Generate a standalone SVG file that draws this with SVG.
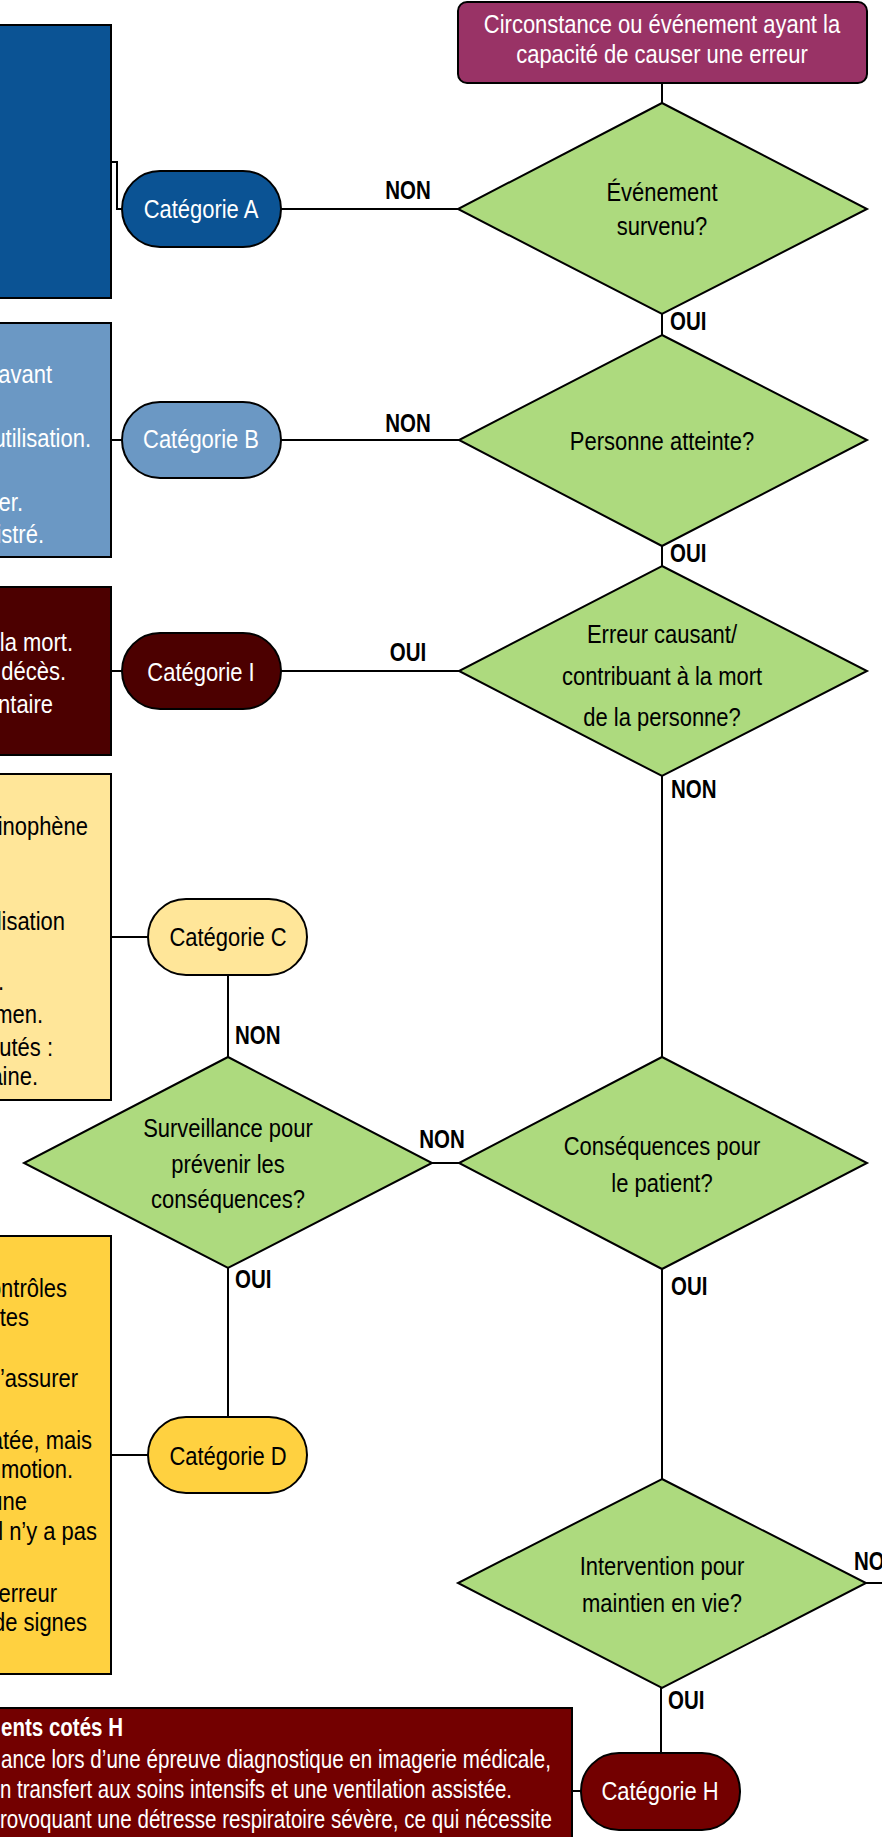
<svg xmlns="http://www.w3.org/2000/svg" width="882" height="1837" viewBox="0 0 882 1837">
<style>
text{font-family:"Liberation Sans","Arial",sans-serif;font-size:26px}
.w{fill:#fff}
.k{fill:#000}
.c{text-anchor:middle}
.e{text-anchor:end}
.lbl{font-weight:bold;font-size:25px;fill:#000}
.dia{fill:#ADDA7E;stroke:#000;stroke-width:2}
.box{stroke:#000;stroke-width:2}
.con{fill:none;stroke:#000;stroke-width:2}
</style>
<rect width="882" height="1837" fill="#fff"/>
<g id="connectors">
<path class="con" d="M662 83V103M662 314V335M662 546V566M662 776V1057M662 1269V1479M661 1688V1753M866 1583H882M458 209H281M122 209H117V162H111M459 440H281M122 440H111M459 671H281M122 671H111M459 1163H432M228 1057V975M148 937H111M228 1268V1417M148 1455H111M581 1791H572"/>
<text class="lbl c" transform="translate(408 199) scale(.82 1)">NON</text>
<text class="lbl c" transform="translate(408 432) scale(.82 1)">NON</text>
<text class="lbl c" transform="translate(408 661) scale(.82 1)">OUI</text>
<text class="lbl" transform="translate(670 330) scale(.82 1)">OUI</text>
<text class="lbl" transform="translate(670 562) scale(.82 1)">OUI</text>
<text class="lbl" transform="translate(671 798) scale(.82 1)">NON</text>
<text class="lbl c" transform="translate(442 1148) scale(.82 1)">NON</text>
<text class="lbl" transform="translate(235 1044) scale(.82 1)">NON</text>
<text class="lbl" transform="translate(235 1288) scale(.82 1)">OUI</text>
<text class="lbl" transform="translate(671 1295) scale(.82 1)">OUI</text>
<text class="lbl" transform="translate(668 1709) scale(.82 1)">OUI</text>
<text class="lbl" transform="translate(854 1570) scale(.82 1)">NON</text>
</g>
<g id="start">
<rect x="458" y="2" width="409" height="81" rx="9" fill="#993366" class="box"/>
<text class="w c" transform="translate(662 33) scale(.845 1)">Circonstance ou événement ayant la</text>
<text class="w c" transform="translate(662 63) scale(.845 1)">capacité de causer une erreur</text>
</g>
<g id="q1">
<polygon class="dia" points="662,103 867,209 662,314 458,209"/>
<text class="k c" transform="translate(662 201) scale(.845 1)">Événement</text>
<text class="k c" transform="translate(662 235) scale(.845 1)">survenu?</text>
</g>
<g id="q2">
<polygon class="dia" points="662,335 867,440 662,546 459,440"/>
<text class="k c" transform="translate(662 450) scale(.845 1)">Personne atteinte?</text>
</g>
<g id="q3">
<polygon class="dia" points="662,566 867,671 662,776 459,671"/>
<text class="k c" transform="translate(662 643) scale(.845 1)">Erreur causant/</text>
<text class="k c" transform="translate(662 685) scale(.845 1)">contribuant à la mort</text>
<text class="k c" transform="translate(662 726) scale(.845 1)">de la personne?</text>
</g>
<g id="q4">
<polygon class="dia" points="662,1057 867,1163 662,1269 459,1163"/>
<text class="k c" transform="translate(662 1155) scale(.845 1)">Conséquences pour</text>
<text class="k c" transform="translate(662 1192) scale(.845 1)">le patient?</text>
</g>
<g id="q5">
<polygon class="dia" points="228,1057 432,1163 228,1268 24,1163"/>
<text class="k c" transform="translate(228 1137) scale(.845 1)">Surveillance pour</text>
<text class="k c" transform="translate(228 1173) scale(.845 1)">prévenir les</text>
<text class="k c" transform="translate(228 1208) scale(.845 1)">conséquences?</text>
</g>
<g id="q6">
<polygon class="dia" points="662,1479 866,1583 662,1688 458,1583"/>
<text class="k c" transform="translate(662 1575) scale(.845 1)">Intervention pour</text>
<text class="k c" transform="translate(662 1612) scale(.845 1)">maintien en vie?</text>
</g>
<g id="catA">
<rect x="122" y="171" width="159" height="76" rx="38" fill="#0B5394" class="box"/>
<text class="w c" transform="translate(201 218) scale(.845 1)">Catégorie A</text>
</g>
<g id="boxA">
<rect x="-10" y="25" width="121" height="273" fill="#0B5394" class="box"/>
</g>
<g id="catB">
<rect x="122" y="402" width="159" height="76" rx="38" fill="#6B98C4" class="box"/>
<text class="w c" transform="translate(201 448) scale(.845 1)">Catégorie B</text>
</g>
<g id="boxB">
<rect x="-10" y="323" width="121" height="234" fill="#6B98C4" class="box"/>
<text class="w e" transform="translate(52 383) scale(.845 1)">avant</text>
<text class="w e" transform="translate(91 447) scale(.845 1)">utilisation.</text>
<text class="w e" transform="translate(23 511) scale(.845 1)">er.</text>
<text class="w e" transform="translate(44 543) scale(.845 1)">istré.</text>
</g>
<g id="catI">
<rect x="122" y="633" width="159" height="76" rx="38" fill="#4C0000" class="box"/>
<text class="w c" transform="translate(201 681) scale(.845 1)">Catégorie I</text>
</g>
<g id="boxI">
<rect x="-10" y="587" width="121" height="168" fill="#4C0000" class="box"/>
<text class="w e" transform="translate(73 651) scale(.845 1)">la mort.</text>
<text class="w e" transform="translate(66 680) scale(.845 1)">décès.</text>
<text class="w e" transform="translate(53 713) scale(.845 1)">entaire</text>
</g>
<g id="catC">
<rect x="148" y="899" width="159" height="76" rx="38" fill="#FFE699" class="box"/>
<text class="k c" transform="translate(228 946) scale(.845 1)">Catégorie C</text>
</g>
<g id="boxC">
<rect x="-10" y="774" width="121" height="326" fill="#FFE699" class="box"/>
<text class="k e" transform="translate(88 835) scale(.845 1)">minophène</text>
<text class="k e" transform="translate(65 930) scale(.845 1)">lisation</text>
<text class="k e" transform="translate(4 990) scale(.845 1)">.</text>
<text class="k e" transform="translate(43 1023) scale(.845 1)">men.</text>
<text class="k e" transform="translate(53 1056) scale(.845 1)">lutés :</text>
<text class="k e" transform="translate(38 1085) scale(.845 1)">aine.</text>
</g>
<g id="catD">
<rect x="148" y="1417" width="159" height="76" rx="38" fill="#FFD140" class="box"/>
<text class="k c" transform="translate(228 1465) scale(.845 1)">Catégorie D</text>
</g>
<g id="boxD">
<rect x="-10" y="1236" width="121" height="438" fill="#FFD140" class="box"/>
<text class="k e" transform="translate(67 1297) scale(.845 1)">ontrôles</text>
<text class="k e" transform="translate(29 1326) scale(.845 1)">ites</text>
<text class="k e" transform="translate(78 1387) scale(.845 1)">s’assurer</text>
<text class="k e" transform="translate(92 1449) scale(.845 1)">atée, mais</text>
<text class="k e" transform="translate(73 1478) scale(.845 1)">nmotion.</text>
<text class="k e" transform="translate(27 1510) scale(.845 1)">une</text>
<text class="k e" transform="translate(97 1540) scale(.845 1)">il n’y a pas</text>
<text class="k e" transform="translate(57 1602) scale(.845 1)">erreur</text>
<text class="k e" transform="translate(87 1631) scale(.845 1)">de signes</text>
</g>
<g id="catH">
<rect x="581" y="1753" width="159" height="77" rx="38" fill="#730000" class="box"/>
<text class="w c" transform="translate(660 1800) scale(.845 1)">Catégorie H</text>
</g>
<g id="boxH">
<rect x="-10" y="1708" width="582" height="140" fill="#730000" class="box"/>
<text class="w" font-weight="bold" font-size="25" x="1" y="1736" textLength="122" lengthAdjust="spacingAndGlyphs">ents cotés H</text>
<text class="w" font-size="25" x="1" y="1768" textLength="550" lengthAdjust="spacingAndGlyphs">ance lors d’une épreuve diagnostique en imagerie médicale,</text>
<text class="w" font-size="25" x="0" y="1798" textLength="512" lengthAdjust="spacingAndGlyphs">n transfert aux soins intensifs et une ventilation assistée.</text>
<text class="w" font-size="25" x="0" y="1828" textLength="552" lengthAdjust="spacingAndGlyphs">rovoquant une détresse respiratoire sévère, ce qui nécessite</text>
</g>
</svg>
